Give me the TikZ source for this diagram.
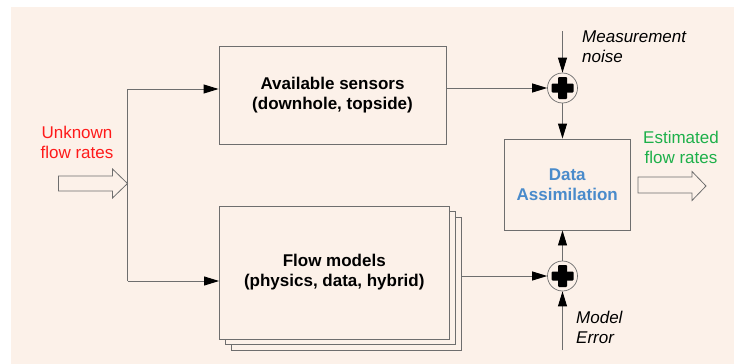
\documentclass[tikz,border=0pt]{standalone}
\usepackage{fontspec}
\setmainfont{Liberation Sans}
\usetikzlibrary{arrows.meta}
\definecolor{bgpeach}{HTML}{FCF1E9}
\definecolor{lgrey}{HTML}{6E6E6E}
\definecolor{dablue}{HTML}{4A8BCB}
\definecolor{redt}{HTML}{FF1A1A}
\definecolor{greent}{HTML}{1DB04A}
\begin{document}
\begin{tikzpicture}[x=1pt,y=-1pt,
  box/.style={draw=lgrey, line width=0.9pt, fill=bgpeach, inner sep=0pt, align=center,
    font=\fontsize{17}{20}\selectfont\bfseries},
  sumnode/.style={circle, draw=lgrey, line width=0.7pt, fill=bgpeach, minimum size=30pt, inner sep=0pt},
  conn/.style={draw=lgrey, line width=0.9pt},
  arr/.style={conn, -{Triangle[length=15pt,width=9pt,color=black]}},
  hollow/.style={draw=lgrey, fill=bgpeach, line width=0.8pt},
  lbl/.style={font=\fontsize{17}{20}\selectfont, align=center, inner sep=0pt},
  ilbl/.style={font=\fontsize{17}{20}\selectfont\itshape, align=left, inner sep=0pt, anchor=west}
]
\useasboundingbox (0,0) rectangle (734,364);
\fill[white] (0,0) rectangle (734,364);
\fill[bgpeach] (11,7) rectangle (734,364);

% boxes
\node[box, minimum width=227pt, minimum height=98pt] (sens) at (332.5,95) {Available sensors\\(downhole, topside)};
\node[box, minimum width=229.5pt, minimum height=133pt] (fmc) at (346.25,283.5) {};
\node[box, minimum width=229.5pt, minimum height=133pt] (fmb) at (340.25,278) {};
\node[box, minimum width=229.5pt, minimum height=133pt] (fm) at (334.25,272.5) {Flow models\\(physics, data, hybrid)};
\node[box, minimum width=126.5pt, minimum height=91pt, text=dablue] (da) at (567.25,184.5) {Data\\Assimilation};

% summing junctions
\node[sumnode] (p1) at (562.5,88) {};
\node[sumnode] (p2) at (562.5,276) {};
\foreach \p in {p1,p2}{
  \fill[black, rounded corners=1pt] ([xshift=-4.5pt,yshift=-11pt]\p.center) rectangle ([xshift=4.5pt,yshift=11pt]\p.center);
  \fill[black, rounded corners=1pt] ([xshift=-11pt,yshift=-4.5pt]\p.center) rectangle ([xshift=11pt,yshift=4.5pt]\p.center);
}

% connectors
\coordinate (jt) at (127.5,89);
\coordinate (jb) at (127.5,281);
\coordinate (mn) at (562.5,31);
\coordinate (me) at (562.5,350);
\draw[conn] (jt) -- (jb);
\draw[arr] (jt) -- (jt -| sens.west);
\draw[arr] (jb) -- (jb -| fm.west);
\draw[arr] (sens.east |- p1) -- (p1.west);
\draw[arr] (fmc.east |- p2) -- (p2.west);
\draw[arr] (mn) -- (p1.north);
\draw[arr] (p1.south) -- (p1.south |- da.north);
\draw[arr] (me) -- (p2.south);
\draw[arr] (p2.north) -- (p2.north |- da.south);

% hollow arrows
\draw[hollow] (58.5,176) -- (112.5,176) -- (112.5,169) -- (127.5,183.5) -- (112.5,198) -- (112.5,191) -- (58.5,191) -- cycle;
\draw[hollow] (638,177) -- (692,177) -- (692,171.5) -- (706,186) -- (692,200.5) -- (692,193) -- (638,193) -- cycle;

% labels
\node[lbl, text=redt] (unk) at (77,142) {Unknown\\flow rates};
\node[lbl, text=greent] (est) at (681,147) {Estimated\\flow rates};
\node[ilbl] (mnl) at (582,47) {Measurement\\noise};
\node[ilbl] (mel) at (576,327) {Model\\Error};
\end{tikzpicture}
\end{document}
